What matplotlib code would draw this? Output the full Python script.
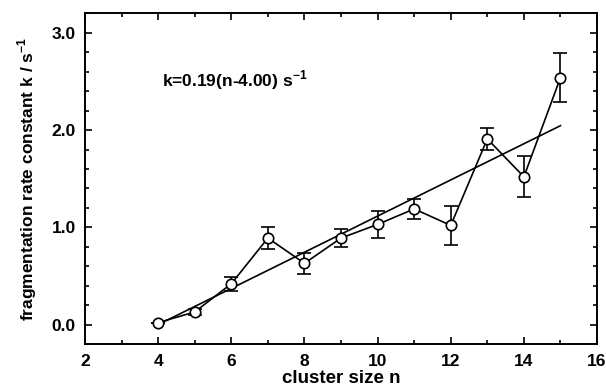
import numpy as np
import matplotlib.pyplot as plt
from matplotlib.ticker import MultipleLocator

plt.rcParams['font.family'] = ['Liberation Sans', 'DejaVu Sans']

# cluster size n and measured rate constants
n = [4, 5, 6, 7, 8, 9, 10, 11, 12, 13, 14, 15]
k = [0.02, 0.13, 0.42, 0.89, 0.63, 0.89, 1.03, 1.19, 1.02, 1.91, 1.52, 2.54]
k_err = [0.0, 0.03, 0.07, 0.11, 0.11, 0.09, 0.14, 0.10, 0.20, 0.11, 0.21, 0.25]

# linear fit k = a (n - n0)
a = 0.186
n0 = 4.0
fit_n = np.array([4, 15])
fit_k = a * (fit_n - n0)

fig = plt.figure(figsize=(6.06, 3.9), dpi=100)
ax = fig.add_axes([0.1403, 0.1179, 0.8449, 0.8475])

ax.plot(fit_n, fit_k, color='black', lw=1.2)
ax.errorbar(n, k, yerr=k_err, color='black', lw=1.2, capsize=5, capthick=1.2,
            marker='o', ms=7.5, mfc='white', mec='black', mew=1.2)

ax.text(4.10, 2.45, 'k=0.19(n-4.00) s$^{\\mathregular{-1}}$', fontsize=12.5,
        fontweight='bold', va='baseline')

ax.set_xlim(2, 16)
ax.set_ylim(-0.2, 3.2)
ax.xaxis.set_major_locator(MultipleLocator(2))
ax.xaxis.set_minor_locator(MultipleLocator(1))
ax.yaxis.set_minor_locator(MultipleLocator(0.2))
ax.set_yticks([0, 1, 2, 3])
ax.set_yticklabels(['0.0', '1.0', '2.0', '3.0'])
ax.tick_params(which='both', direction='in', top=True, right=True, width=1.2)
ax.tick_params(which='major', length=5, labelsize=12.5)
ax.tick_params(which='minor', length=3)
ax.tick_params(axis='x', pad=7)
ax.tick_params(axis='y', pad=6.5)
for lab in ax.get_xticklabels() + ax.get_yticklabels():
    lab.set_fontweight('bold')
for sp in ax.spines.values():
    sp.set_linewidth(1.4)

ax.set_xlabel('cluster size n', fontsize=13.5, fontweight='bold', labelpad=1)
ax.set_ylabel('fragmentation rate constant k / s$^{\\mathregular{-1}}$', fontsize=12.5,
              fontweight='bold', labelpad=9)

fig.savefig('out.png', dpi=100)
